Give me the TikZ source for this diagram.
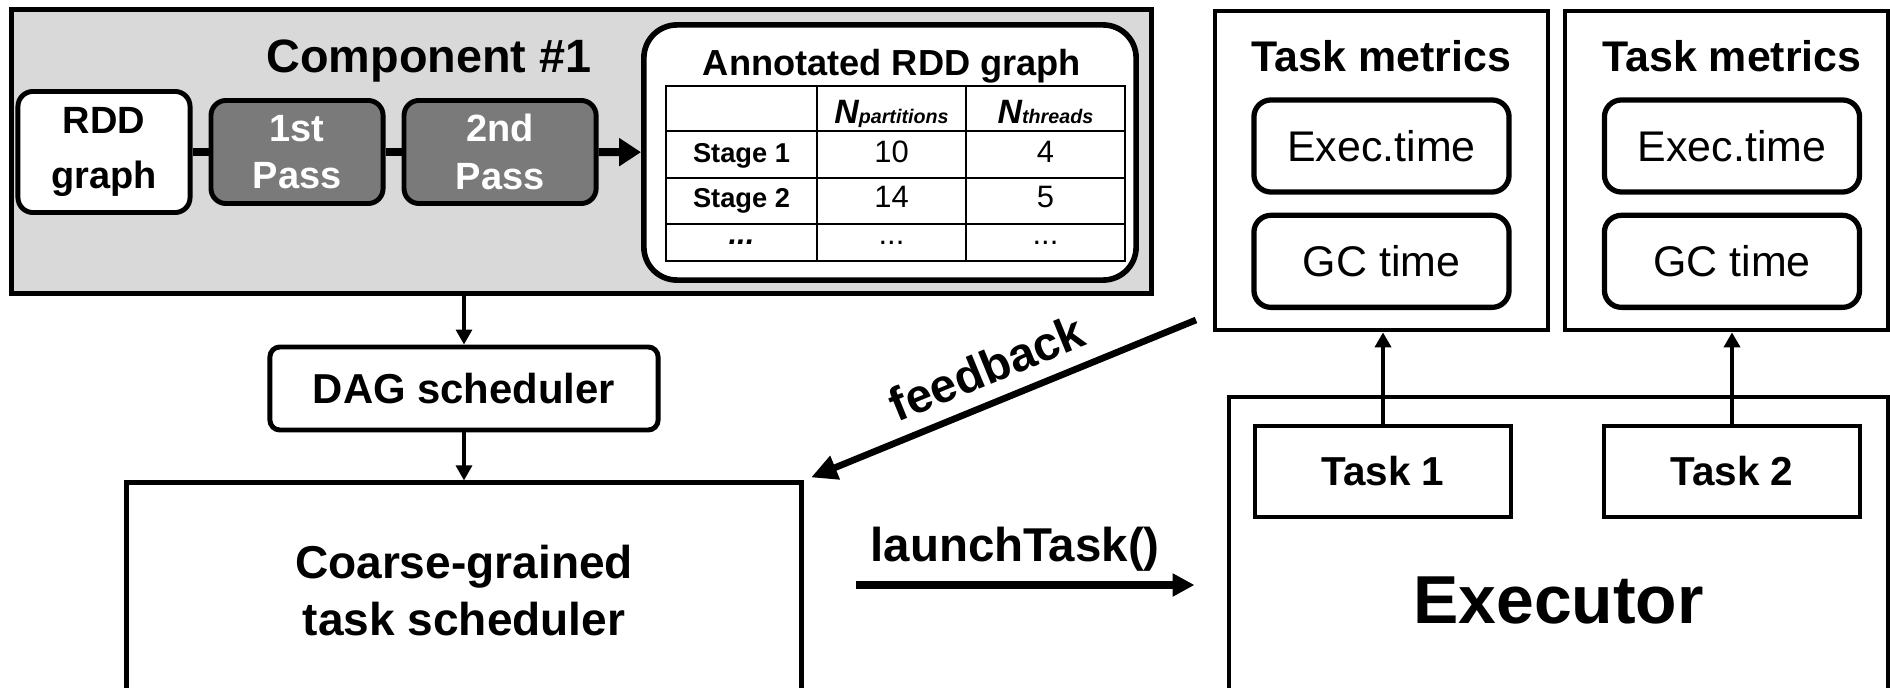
\documentclass[tikz,border=0pt]{standalone}
\usepackage{fontspec}
\setmainfont{Liberation Sans}
\usetikzlibrary{arrows.meta, positioning}
\tikzset{
    graybox/.style={rectangle, draw=black, line width=1.4pt, fill=black!15},
    stepblock/.style={rectangle, rounded corners=0.15cm, draw=black, line width=1.4pt, fill=white, align=center, minimum width=1.72cm, minimum height=1.21cm, font=\bfseries\fontsize{10.8}{13.5}\selectfont},
    passblock/.style={stepblock, fill=black!52, text=white, minimum height=1.03cm},
    annoblock/.style={rectangle, rounded corners=0.33cm, draw=black, line width=1.6pt, fill=white, minimum width=4.92cm, minimum height=2.55cm},
    heading/.style={anchor=base, inner sep=0pt, font=\bfseries\fontsize{13.3}{15}\selectfont},
    cell/.style={anchor=base, inner sep=0pt, font=\fontsize{8.8}{10}\selectfont},
    stagecell/.style={cell, font=\bfseries\fontsize{7.75}{9}\selectfont},
    tableline/.style={line width=0.7pt},
    sched/.style={rectangle, rounded corners=0.1cm, draw=black, line width=1.4pt, fill=white, minimum width=3.88cm, minimum height=0.83cm, font=\bfseries\fontsize{11.9}{13}\selectfont},
    schedbig/.style={rectangle, draw=black, line width=1.4pt, align=center, minimum width=6.74cm, minimum height=2.15cm, font=\bfseries\fontsize{13.1}{16}\selectfont},
    metricframe/.style={rectangle, draw=black, line width=1.3pt, minimum height=3.19cm},
    metrictitle/.style={inner sep=0pt, font=\bfseries\fontsize{12.2}{14}\selectfont},
    metric/.style={rectangle, rounded corners=0.17cm, draw=black, line width=1.5pt, minimum width=2.55cm, minimum height=0.92cm, font=\fontsize{12.2}{14}\selectfont},
    execbox/.style={rectangle, draw=black, line width=1.3pt, minimum width=6.59cm, minimum height=4.06cm, font=\bfseries\fontsize{19.3}{22}\selectfont},
    taskblock/.style={rectangle, draw=black, line width=1.3pt, fill=white, minimum width=2.56cm, minimum height=0.91cm, font=\bfseries\fontsize{11.5}{13}\selectfont},
    passline/.style={line width=2.3pt},
    arrow/.style={line width=0.9pt, -{Triangle[length=0.15cm, width=0.16cm]}},
    taskarrow/.style={line width=1.2pt, -{Triangle[length=0.15cm, width=0.16cm]}},
    fbarrow/.style={line width=1.9pt, {Triangle[length=0.26cm, width=0.24cm]}-},
    launcharrow/.style={line width=2pt, -{Triangle[length=0.22cm, width=0.22cm]}},
    flowlabel/.style={font=\bfseries\fontsize{13.5}{15}\selectfont}
}
\begin{document}
\begin{tikzpicture}[x=0.01cm, y=-0.01cm]
    \useasboundingbox (0,0) rectangle (1890,688);
    \clip (0,0) rectangle (1890,688);
    % Component #1
    \node (comp) [graybox, minimum width=11.39cm, minimum height=2.83cm] at (581.5,151.5) {};
    \node (comptitle) [heading] at (429,73) {Component \#1};
    \node (rdd) [stepblock, font=\bfseries\fontsize{10.8}{15.5}\selectfont] at (104,152) {RDD\\graph};
    \node (pass1) [passblock, right=0.16cm of rdd] {1st\\Pass};
    \node (pass2) [passblock, right=0.16cm of pass1, minimum width=1.92cm] {2nd\\Pass};
    \node (annot) [annoblock] at (890,152.5) {};
    \node (annottitle) [heading, font=\bfseries\fontsize{10.3}{12}\selectfont] at (892,76) {Annotated RDD graph};
    % Table
    \draw[tableline] (666,86) rectangle (1125,261)
        (817,86) -- (817,261) (966,86) -- (966,261)
        (666,131) -- (1125,131) (666,178) -- (1125,178) (666,224) -- (1125,224);
    \node (hpart) [cell] at (891.5,123.5) {\bfseries\itshape{\fontsize{9.6}{11}\selectfont N}\fontsize{5.6}{6}\selectfont partitions};
    \node (hthr) [cell] at (1045.5,123.5) {\bfseries\itshape{\fontsize{9.6}{11}\selectfont N}\fontsize{5.6}{6}\selectfont threads};
    \node (sone) [stagecell] at (741.5,162.5) {Stage 1};
    \node (sonepart) [cell] at (891.5,162.5) {10};
    \node (sonethr) [cell] at (1045.5,162.5) {4};
    \node (stwo) [stagecell] at (741.5,207.5) {Stage 2};
    \node (stwopart) [cell] at (891.5,207.5) {14};
    \node (stwothr) [cell] at (1045.5,207.5) {5};
    \node (smore) [cell, font=\bfseries\itshape\fontsize{8.8}{10}\selectfont] at (741.5,245) {...};
    \node (smorepart) [cell] at (891.5,245) {...};
    \node (smorethr) [cell] at (1045.5,245) {...};
    % Schedulers
    \node (dag) [sched] at (464,388.5) {DAG scheduler};
    \node (coarse) [schedbig] at (464,590.5) {Coarse-grained\\task scheduler};
    % Task metrics
    \node (frame1) [metricframe, minimum width=3.33cm] at (1381.5,170.5) {};
    \node (frame2) [metricframe, minimum width=3.23cm] at (1726.5,170.5) {};
    \node (exec1) [metric] at (1381.5,146) {Exec.time};
    \node (gc1) [metric, below=0.18cm of exec1] {GC time};
    \node (met1) [metrictitle, above=0.25cm of exec1] {Task metrics};
    \node (exec2) [metric] at (1732,146) {Exec.time};
    \node (gc2) [metric, below=0.18cm of exec2] {GC time};
    \node (met2) [metrictitle, above=0.25cm of exec2] {Task metrics};
    % Executor
    \node (exec) [execbox] at (1558.5,600) {Executor};
    \node (task1) [taskblock] at (1383,471.5) {Task 1};
    \node (task2) [taskblock] at (1732,471.5) {Task 2};
    \coordinate (fbstart) at (1196,320);
    \coordinate (launchrow) at (0,585);
    % Arrows
    \draw [passline] (rdd) -- (pass1);
    \draw [passline] (pass1) -- (pass2);
    \draw [passline, -{Triangle[length=0.22cm, width=0.27cm]}] (pass2) -- (annot);
    \draw [arrow] (dag |- comp.south) -- (dag);
    \draw [arrow] (dag) -- (coarse);
    \draw [taskarrow] (task1) -- (task1 |- frame1.south);
    \draw [taskarrow] (task2) -- (task2 |- frame2.south);
    \draw [fbarrow, shorten <=0.08cm] (coarse.north east) -- node[flowlabel, sloped, above, inner sep=4pt, pos=0.5] {feedback} (fbstart);
    \draw [launcharrow, shorten <=0.52cm, shorten >=0.32cm] (coarse.east |- launchrow) -- node[flowlabel, above=3pt, inner sep=0pt] {launchTask()} (exec.west |- launchrow);
\end{tikzpicture}
\end{document}
